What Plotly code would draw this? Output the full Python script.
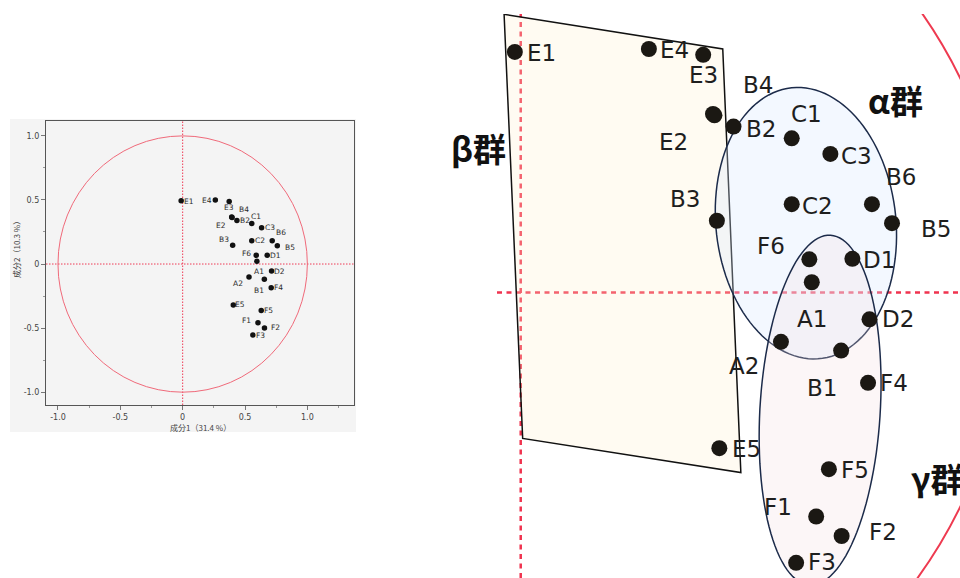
import numpy as np
import plotly.graph_objects as go

# Principal component loadings of the 24 samples
names = ["E1", "E4", "E3", "E2", "B4", "B2", "C1", "C3", "C2", "B6", "B5", "B3",
         "F6", "D1", "A1", "D2", "A2", "B1", "F4", "E5", "F5", "F1", "F2", "F3"]
pc1 = [-0.012, 0.262, 0.373, 0.393, 0.396, 0.435, 0.554, 0.633, 0.554, 0.718, 0.759, 0.401,
       0.590, 0.678, 0.595, 0.713, 0.532, 0.655, 0.710, 0.406, 0.630, 0.604, 0.656, 0.563]
pc2 = [0.493, 0.499, 0.487, 0.366, 0.363, 0.340, 0.316, 0.284, 0.181, 0.181, 0.142, 0.147,
       0.068, 0.069, 0.021, -0.055, -0.101, -0.119, -0.185, -0.319, -0.362, -0.459, -0.499, -0.554]

x_title = "成分1（31.4 %）"
y_title = "成分2（10.3 %）"
tick_vals = [-1.0, -0.5, 0, 0.5, 1.0]
tick_text = ["-1.0", "-0.5", "0", "0.5", "1.0"]

# Group outlines (PC units)
beta_poly = [(-0.034, 0.570), (0.413, 0.499), (0.450, -0.369), (0.004, -0.299)]
alpha_ell = dict(cx=0.583, cy=0.142, a=0.279, b=0.184, deg=6.0)
gamma_ell = dict(cx=0.612, cy=-0.241, a=0.359, b=0.123, deg=-3.4)
groups = [("α群", 895, 100, "center"), ("β群", 478, 148, "center"), ("γ群", 909, 478, "left")]

# label placement (screen px: dx right, dy down)
off_small = {"E1": (8, 1), "E4": (-8, 0), "E3": (0, 6), "E2": (-11, 8), "B4": (12, -8),
             "B2": (8, 0), "C1": (4, -7), "C3": (8, 0), "C2": (8, 0), "B6": (9, -8),
             "B5": (13, 2), "B3": (-9, -6), "F6": (-10, -2), "D1": (8, 0), "A1": (2, 10),
             "D2": (8, 0), "A2": (-11, 7), "B1": (-5, 11), "F4": (7, 0), "E5": (7, 0),
             "F5": (7, 0), "F1": (-11, -2), "F2": (11, 0), "F3": (8, 0)}
off_big = {"E1": (27, 1), "E4": (26, 1), "E3": (0, 20), "E2": (-39, 28), "B4": (44, -30),
           "B2": (27, 2), "C1": (15, -24), "C3": (26, 2), "C2": (26, 2), "B6": (29, -27),
           "B5": (44, 6), "B3": (-32, -22), "F6": (-38, -13), "D1": (27, 1), "A1": (0, 37),
           "D2": (28, 0), "A2": (-37, 24), "B1": (-19, 37), "F4": (26, 0), "E5": (27, 1),
           "F5": (26, 1), "F1": (-38, -10), "F2": (41, -4), "F3": (26, -1)}

W, H = 960, 578
FONT = "DejaVu Sans, Verdana, sans-serif"
CJK = "Noto Sans CJK JP, sans-serif"


def ellipse_path(cx, cy, a, b, deg, n=120):
    t = np.linspace(0, 2 * np.pi, n)
    p = np.deg2rad(deg)
    xs = cx + a * np.cos(t) * (-np.sin(p)) + b * np.sin(t) * np.cos(p)
    ys = cy + a * np.cos(t) * np.cos(p) + b * np.sin(t) * np.sin(p)
    return "M " + " L ".join(f"{x:.4f},{y:.4f}" for x, y in zip(xs, ys)) + " Z"


fig = go.Figure()

# overview plot
fig.add_trace(go.Scatter(x=pc1, y=pc2, mode="markers", xaxis="x", yaxis="y",
                         marker=dict(size=5.5, color="#111"), hoverinfo="skip"))
# magnified plot
fig.add_trace(go.Scatter(x=pc1, y=pc2, mode="markers", xaxis="x2", yaxis="y2",
                         marker=dict(size=16, color="#1b1813"), hoverinfo="skip"))

shapes = [
    # grey frame of the overview panel
    dict(type="rect", xref="paper", yref="paper", x0=10 / W, x1=356 / W,
         y0=1 - 432 / H, y1=1 - 119 / H, fillcolor="#f4f4f4", line=dict(width=0), layer="below"),
    dict(type="circle", xref="x", yref="y", x0=-1, x1=1, y0=-1, y1=1,
         line=dict(color="#f06a7a", width=1), layer="below"),
    dict(type="line", xref="x", yref="y domain", x0=0, x1=0, y0=0, y1=1,
         line=dict(color="#ee3a55", width=1, dash="1.5px,1.5px"), layer="below"),
    dict(type="line", xref="x domain", yref="y", x0=0, x1=1, y0=0, y1=0,
         line=dict(color="#ee3a55", width=1, dash="1.5px,1.5px"), layer="below"),
]

beta_path = "M " + " L ".join(f"{x},{y}" for x, y in beta_poly) + " Z"
shapes += [
    dict(type="path", xref="x2", yref="y2", path=beta_path,
         fillcolor="rgba(255,238,205,0.26)", line=dict(color="#111", width=1.5), layer="below"),
    dict(type="path", xref="x2", yref="y2", path=ellipse_path(**alpha_ell),
         fillcolor="rgba(215,232,255,0.30)", line=dict(color="#1c2b4a", width=1.5), layer="below"),
    dict(type="path", xref="x2", yref="y2", path=ellipse_path(**gamma_ell),
         fillcolor="rgba(245,218,222,0.25)", line=dict(color="#1c2b4a", width=1.5), layer="below"),
    dict(type="line", xref="x2", yref="y2 domain", x0=0, x1=0, y0=0, y1=1,
         line=dict(color="#f0334f", width=2.5, dash="5px,4.5px"), layer="below"),
    dict(type="line", xref="x2 domain", yref="y2", x0=0, x1=1, y0=0, y1=0,
         line=dict(color="#f0334f", width=2.5, dash="5px,4.5px"), layer="below"),
    dict(type="circle", xref="x2", yref="y2", x0=-1, x1=1, y0=-1, y1=1,
         line=dict(color="#ee3a50", width=2), layer="below"),
]

annotations = []
for n, x, y in zip(names, pc1, pc2):
    dx, dy = off_small[n]
    annotations.append(dict(x=x, y=y, xref="x", yref="y", text=n, showarrow=False,
                            xshift=dx, yshift=-dy, font=dict(family=FONT, size=7.5, color="#2a2a2a")))
    dx, dy = off_big[n]
    annotations.append(dict(x=x, y=y, xref="x2", yref="y2", text=n, showarrow=False,
                            xshift=dx, yshift=-dy, font=dict(family=FONT, size=23, color="#1e1e1e")))

for txt, px, py, anchor in groups:
    annotations.append(dict(x=px / W, y=1 - py / H, xref="paper", yref="paper", text=f"<b>{txt}</b>",
                            showarrow=False, xanchor=anchor, yanchor="middle",
                            font=dict(family=CJK, size=33, color="#111")))

annotations.append(dict(x=200 / W, y=1 - 427 / H, xref="paper", yref="paper", text=x_title,
                        showarrow=False, xanchor="center", yanchor="middle",
                        font=dict(family=CJK, size=8, color="#444")))
annotations.append(dict(x=16 / W, y=1 - 248 / H, xref="paper", yref="paper", text=y_title,
                        showarrow=False, textangle=-90, xanchor="center", yanchor="middle",
                        font=dict(family=CJK, size=8, color="#444")))

axis_common = dict(tickvals=tick_vals, ticktext=tick_text, ticks="outside", ticklen=4,
                   tickcolor="#777", tickfont=dict(family=FONT, size=8, color="#444"),
                   showgrid=False, zeroline=False, showline=True, linecolor="#555",
                   linewidth=1.3, mirror=True, fixedrange=True,
                   minor=dict(ticks="outside", dtick=0.25, tick0=0, ticklen=2, tickcolor="#999"))

fig.update_layout(
    width=W, height=H, autosize=False,
    margin=dict(l=0, r=0, t=0, b=0),
    paper_bgcolor="white", plot_bgcolor="white",
    showlegend=False,
    xaxis=dict(domain=[46 / W, 354 / W], range=[-1.096, 1.374], anchor="y", **axis_common),
    yaxis=dict(domain=[1 - 405 / H, 1 - 121 / H], range=[-1.10, 1.116], anchor="x", **axis_common),
    xaxis2=dict(domain=[497 / W, 1], range=[-0.0485, 0.898], anchor="y2", visible=False, fixedrange=True),
    yaxis2=dict(domain=[0, 1 - 14 / H], range=[-0.585, 0.5707], anchor="x2", visible=False, fixedrange=True),
    shapes=shapes,
    annotations=annotations,
)

fig.write_html("out.html")
